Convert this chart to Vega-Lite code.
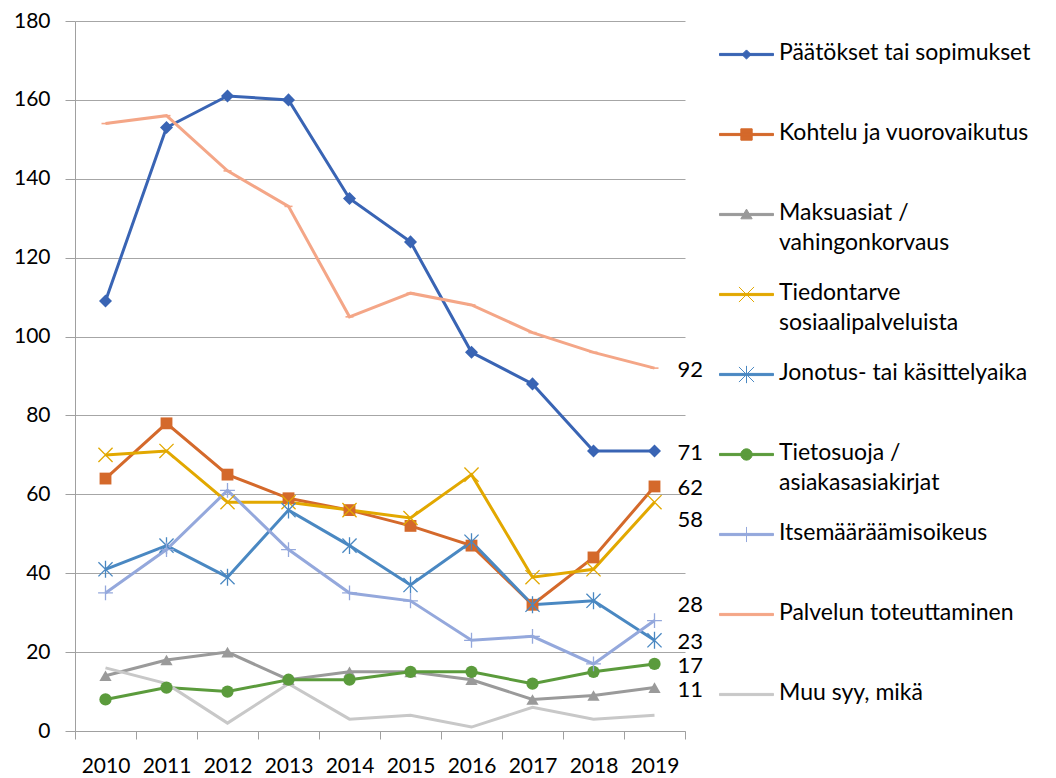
{
  "$schema": "https://vega.github.io/schema/vega-lite/v6.json",
  "width": 610,
  "height": 710,
  "autosize": {"type": "none"},
  "padding": {"left": 75, "top": 21, "right": 371, "bottom": 47},
  "background": "white",
  "config": {
    "view": {"stroke": null},
    "font": "Lato",
    "axis": {"labelFont": "Lato", "labelColor": "#000000", "labelFontSize": 20, "domainColor": "#A0A0A0", "tickColor": "#A0A0A0", "gridColor": "#A6A6A6", "title": null}
  },
  "data": {"values": [
    {"year": "2010", "series": "Päätökset tai sopimukset", "value": 109},
    {"year": "2011", "series": "Päätökset tai sopimukset", "value": 153},
    {"year": "2012", "series": "Päätökset tai sopimukset", "value": 161},
    {"year": "2013", "series": "Päätökset tai sopimukset", "value": 160},
    {"year": "2014", "series": "Päätökset tai sopimukset", "value": 135},
    {"year": "2015", "series": "Päätökset tai sopimukset", "value": 124},
    {"year": "2016", "series": "Päätökset tai sopimukset", "value": 96},
    {"year": "2017", "series": "Päätökset tai sopimukset", "value": 88},
    {"year": "2018", "series": "Päätökset tai sopimukset", "value": 71},
    {"year": "2019", "series": "Päätökset tai sopimukset", "value": 71},
    {"year": "2010", "series": "Kohtelu ja vuorovaikutus", "value": 64},
    {"year": "2011", "series": "Kohtelu ja vuorovaikutus", "value": 78},
    {"year": "2012", "series": "Kohtelu ja vuorovaikutus", "value": 65},
    {"year": "2013", "series": "Kohtelu ja vuorovaikutus", "value": 59},
    {"year": "2014", "series": "Kohtelu ja vuorovaikutus", "value": 56},
    {"year": "2015", "series": "Kohtelu ja vuorovaikutus", "value": 52},
    {"year": "2016", "series": "Kohtelu ja vuorovaikutus", "value": 47},
    {"year": "2017", "series": "Kohtelu ja vuorovaikutus", "value": 32},
    {"year": "2018", "series": "Kohtelu ja vuorovaikutus", "value": 44},
    {"year": "2019", "series": "Kohtelu ja vuorovaikutus", "value": 62},
    {"year": "2010", "series": "Maksuasiat / vahingonkorvaus", "value": 14},
    {"year": "2011", "series": "Maksuasiat / vahingonkorvaus", "value": 18},
    {"year": "2012", "series": "Maksuasiat / vahingonkorvaus", "value": 20},
    {"year": "2013", "series": "Maksuasiat / vahingonkorvaus", "value": 13},
    {"year": "2014", "series": "Maksuasiat / vahingonkorvaus", "value": 15},
    {"year": "2015", "series": "Maksuasiat / vahingonkorvaus", "value": 15},
    {"year": "2016", "series": "Maksuasiat / vahingonkorvaus", "value": 13},
    {"year": "2017", "series": "Maksuasiat / vahingonkorvaus", "value": 8},
    {"year": "2018", "series": "Maksuasiat / vahingonkorvaus", "value": 9},
    {"year": "2019", "series": "Maksuasiat / vahingonkorvaus", "value": 11},
    {"year": "2010", "series": "Tiedontarve sosiaalipalveluista", "value": 70},
    {"year": "2011", "series": "Tiedontarve sosiaalipalveluista", "value": 71},
    {"year": "2012", "series": "Tiedontarve sosiaalipalveluista", "value": 58},
    {"year": "2013", "series": "Tiedontarve sosiaalipalveluista", "value": 58},
    {"year": "2014", "series": "Tiedontarve sosiaalipalveluista", "value": 56},
    {"year": "2015", "series": "Tiedontarve sosiaalipalveluista", "value": 54},
    {"year": "2016", "series": "Tiedontarve sosiaalipalveluista", "value": 65},
    {"year": "2017", "series": "Tiedontarve sosiaalipalveluista", "value": 39},
    {"year": "2018", "series": "Tiedontarve sosiaalipalveluista", "value": 41},
    {"year": "2019", "series": "Tiedontarve sosiaalipalveluista", "value": 58},
    {"year": "2010", "series": "Jonotus- tai käsittelyaika", "value": 41},
    {"year": "2011", "series": "Jonotus- tai käsittelyaika", "value": 47},
    {"year": "2012", "series": "Jonotus- tai käsittelyaika", "value": 39},
    {"year": "2013", "series": "Jonotus- tai käsittelyaika", "value": 56},
    {"year": "2014", "series": "Jonotus- tai käsittelyaika", "value": 47},
    {"year": "2015", "series": "Jonotus- tai käsittelyaika", "value": 37},
    {"year": "2016", "series": "Jonotus- tai käsittelyaika", "value": 48},
    {"year": "2017", "series": "Jonotus- tai käsittelyaika", "value": 32},
    {"year": "2018", "series": "Jonotus- tai käsittelyaika", "value": 33},
    {"year": "2019", "series": "Jonotus- tai käsittelyaika", "value": 23},
    {"year": "2010", "series": "Tietosuoja / asiakasasiakirjat", "value": 8},
    {"year": "2011", "series": "Tietosuoja / asiakasasiakirjat", "value": 11},
    {"year": "2012", "series": "Tietosuoja / asiakasasiakirjat", "value": 10},
    {"year": "2013", "series": "Tietosuoja / asiakasasiakirjat", "value": 13},
    {"year": "2014", "series": "Tietosuoja / asiakasasiakirjat", "value": 13},
    {"year": "2015", "series": "Tietosuoja / asiakasasiakirjat", "value": 15},
    {"year": "2016", "series": "Tietosuoja / asiakasasiakirjat", "value": 15},
    {"year": "2017", "series": "Tietosuoja / asiakasasiakirjat", "value": 12},
    {"year": "2018", "series": "Tietosuoja / asiakasasiakirjat", "value": 15},
    {"year": "2019", "series": "Tietosuoja / asiakasasiakirjat", "value": 17},
    {"year": "2010", "series": "Itsemääräämisoikeus", "value": 35},
    {"year": "2011", "series": "Itsemääräämisoikeus", "value": 46},
    {"year": "2012", "series": "Itsemääräämisoikeus", "value": 61},
    {"year": "2013", "series": "Itsemääräämisoikeus", "value": 46},
    {"year": "2014", "series": "Itsemääräämisoikeus", "value": 35},
    {"year": "2015", "series": "Itsemääräämisoikeus", "value": 33},
    {"year": "2016", "series": "Itsemääräämisoikeus", "value": 23},
    {"year": "2017", "series": "Itsemääräämisoikeus", "value": 24},
    {"year": "2018", "series": "Itsemääräämisoikeus", "value": 17},
    {"year": "2019", "series": "Itsemääräämisoikeus", "value": 28},
    {"year": "2010", "series": "Palvelun toteuttaminen", "value": 154},
    {"year": "2011", "series": "Palvelun toteuttaminen", "value": 156},
    {"year": "2012", "series": "Palvelun toteuttaminen", "value": 142},
    {"year": "2013", "series": "Palvelun toteuttaminen", "value": 133},
    {"year": "2014", "series": "Palvelun toteuttaminen", "value": 105},
    {"year": "2015", "series": "Palvelun toteuttaminen", "value": 111},
    {"year": "2016", "series": "Palvelun toteuttaminen", "value": 108},
    {"year": "2017", "series": "Palvelun toteuttaminen", "value": 101},
    {"year": "2018", "series": "Palvelun toteuttaminen", "value": 96},
    {"year": "2019", "series": "Palvelun toteuttaminen", "value": 92},
    {"year": "2010", "series": "Muu syy, mikä", "value": 16},
    {"year": "2011", "series": "Muu syy, mikä", "value": 12},
    {"year": "2012", "series": "Muu syy, mikä", "value": 2},
    {"year": "2013", "series": "Muu syy, mikä", "value": 12},
    {"year": "2014", "series": "Muu syy, mikä", "value": 3},
    {"year": "2015", "series": "Muu syy, mikä", "value": 4},
    {"year": "2016", "series": "Muu syy, mikä", "value": 1},
    {"year": "2017", "series": "Muu syy, mikä", "value": 6},
    {"year": "2018", "series": "Muu syy, mikä", "value": 3},
    {"year": "2019", "series": "Muu syy, mikä", "value": 4}
  ]},
  "encoding": {
    "x": {"field": "year", "type": "nominal", "sort": null,
      "scale": {"type": "band", "paddingInner": 0, "paddingOuter": 0},
      "axis": {"labelAngle": 0, "tickBand": "extent", "tickSize": 8, "labelPadding": 16, "grid": false, "labelFontSize": 21}},
    "y": {"field": "value", "type": "quantitative",
      "scale": {"domain": [0, 180], "nice": false},
      "axis": {"values": [0, 20, 40, 60, 80, 100, 120, 140, 160, 180], "grid": true, "tickSize": 10, "labelPadding": 15, "labelFontSize": 21}},
    "color": {"field": "series", "type": "nominal",
      "scale": {
        "domain": ["Päätökset tai sopimukset", "Kohtelu ja vuorovaikutus", "Maksuasiat / vahingonkorvaus", "Tiedontarve sosiaalipalveluista", "Jonotus- tai käsittelyaika", "Tietosuoja / asiakasasiakirjat", "Itsemääräämisoikeus", "Palvelun toteuttaminen", "Muu syy, mikä"],
        "range": ["#3964B4", "#D4692B", "#9A9A9A", "#E2A800", "#4A88C2", "#5B9B3C", "#94A8DC", "#F4A687", "#C8C8C8"]
      },
      "legend": null}
  },
  "layer": [
    {
      "mark": {"type": "line", "strokeWidth": 3},
      "encoding": {
        "color": {"field": "series", "type": "nominal",
          "legend": {
            "title": null,
            "orient": "none",
            "legendX": 644,
            "legendY": 6,
            "padding": 0,
            "gridAlign": "all",
            "rowPadding": 12,
            "symbolSize": 2916,
            "labelOffset": 5,
            "labelFont": "Lato",
            "labelFontSize": 23,
            "labelColor": "#000000",
            "labelLimit": 400,
            "labelBaseline": "top",
            "labelExpr": "datum.label == 'Maksuasiat / vahingonkorvaus' ? ['Maksuasiat /', 'vahingonkorvaus'] : datum.label == 'Tiedontarve sosiaalipalveluista' ? ['Tiedontarve', 'sosiaalipalveluista'] : datum.label == 'Tietosuoja / asiakasasiakirjat' ? ['Tietosuoja /', 'asiakasasiakirjat'] : datum.label",
            "encode": {
              "labels": {"update": {"dy": {"value": -13}, "lineHeight": {"value": 30}, "baseline": {"value": "top"}}},
              "symbols": {"update": {
                "fill": {"scale": "color", "field": "value"},
                "stroke": {"scale": "color", "field": "value"},
                "strokeWidth": {"value": 1},
                "opacity": {"value": 1},
                "strokeDash": {"value": []},
                "shape": {"signal": "datum.value == 'Päätökset tai sopimukset' ? 'M-1,-0.04H1V0.04H-1ZM0,-0.17L0.17,0L0,0.17L-0.17,0Z' : datum.value == 'Kohtelu ja vuorovaikutus' ? 'M-1,-0.04H1V0.04H-1ZM-0.21,-0.21H0.21V0.21H-0.21Z' : datum.value == 'Maksuasiat / vahingonkorvaus' ? 'M-1,-0.04H1V0.04H-1ZM0,-0.2L0.21,0.16H-0.21Z' : datum.value == 'Tiedontarve sosiaalipalveluista' ? 'M-1,-0.04H1V0.04H-1ZM-0.28,-0.28L0.28,0.28M0.28,-0.28L-0.28,0.28' : datum.value == 'Jonotus- tai käsittelyaika' ? 'M-1,-0.04H1V0.04H-1ZM-0.28,-0.28L0.28,0.28M0.28,-0.28L-0.28,0.28M0,-0.32V0.32' : datum.value == 'Tietosuoja / asiakasasiakirjat' ? 'M-1,-0.04H1V0.04H-1ZM-0.21,0A0.21,0.21,0,1,1,0.21,0A0.21,0.21,0,1,1,-0.21,0Z' : datum.value == 'Itsemääräämisoikeus' ? 'M-1,-0.04H1V0.04H-1ZM0,-0.28V0.28' : 'M-1,-0.04H1V0.04H-1Z'"}
              }}
            }
          }
        }
      }
    },
    {
      "transform": [{"filter": "datum.series == 'Päätökset tai sopimukset'"}],
      "mark": {"type": "point", "shape": "diamond", "filled": true, "opacity": 1, "size": 170}
    },
    {
      "transform": [{"filter": "datum.series == 'Kohtelu ja vuorovaikutus'"}],
      "mark": {"type": "point", "shape": "square", "filled": true, "opacity": 1, "size": 140}
    },
    {
      "transform": [{"filter": "datum.series == 'Maksuasiat / vahingonkorvaus'"}],
      "mark": {"type": "point", "shape": "triangle-up", "filled": true, "opacity": 1, "size": 150}
    },
    {
      "transform": [{"filter": "datum.series == 'Tiedontarve sosiaalipalveluista'"}],
      "mark": {"type": "point", "shape": "M-1,-1L1,1M1,-1L-1,1", "filled": false, "strokeWidth": 1.3, "opacity": 1, "size": 200}
    },
    {
      "transform": [{"filter": "datum.series == 'Jonotus- tai käsittelyaika'"}],
      "mark": {"type": "point", "shape": "M-1,-1L1,1M1,-1L-1,1M0,-1.2V1.2", "filled": false, "strokeWidth": 1.3, "opacity": 1, "size": 200}
    },
    {
      "transform": [{"filter": "datum.series == 'Tietosuoja / asiakasasiakirjat'"}],
      "mark": {"type": "point", "shape": "circle", "filled": true, "opacity": 1, "size": 150}
    },
    {
      "transform": [{"filter": "datum.series == 'Itsemääräämisoikeus'"}],
      "mark": {"type": "point", "shape": "M-1,0H1M0,-1V1", "filled": false, "strokeWidth": 1.3, "opacity": 1, "size": 220}
    },
    {
      "transform": [{"filter": "datum.series == 'Palvelun toteuttaminen'"}],
      "mark": {"type": "point", "shape": "M-1,-0.2H1V0.2H-1Z", "filled": true, "opacity": 1, "size": 64}
    },
    {
      "transform": [{"filter": "datum.year == '2019' && datum.series != 'Muu syy, mikä' && datum.series != 'Tiedontarve sosiaalipalveluista' && datum.series != 'Itsemääräämisoikeus'"}],
      "mark": {"type": "text", "align": "left", "baseline": "middle", "dx": 23, "dy": 2, "font": "Lato", "fontSize": 22, "color": "#000000"},
      "encoding": {"text": {"field": "value", "type": "quantitative"}, "color": {"value": "#000000"}}
    },
    {
      "transform": [{"filter": "datum.year == '2019' && datum.series == 'Tiedontarve sosiaalipalveluista'"}],
      "mark": {"type": "text", "align": "left", "baseline": "middle", "dx": 23, "dy": 18, "font": "Lato", "fontSize": 22, "color": "#000000"},
      "encoding": {"text": {"field": "value", "type": "quantitative"}, "color": {"value": "#000000"}}
    },
    {
      "transform": [{"filter": "datum.year == '2019' && datum.series == 'Itsemääräämisoikeus'"}],
      "mark": {"type": "text", "align": "left", "baseline": "middle", "dx": 23, "dy": -16, "font": "Lato", "fontSize": 22, "color": "#000000"},
      "encoding": {"text": {"field": "value", "type": "quantitative"}, "color": {"value": "#000000"}}
    }
  ]
}
